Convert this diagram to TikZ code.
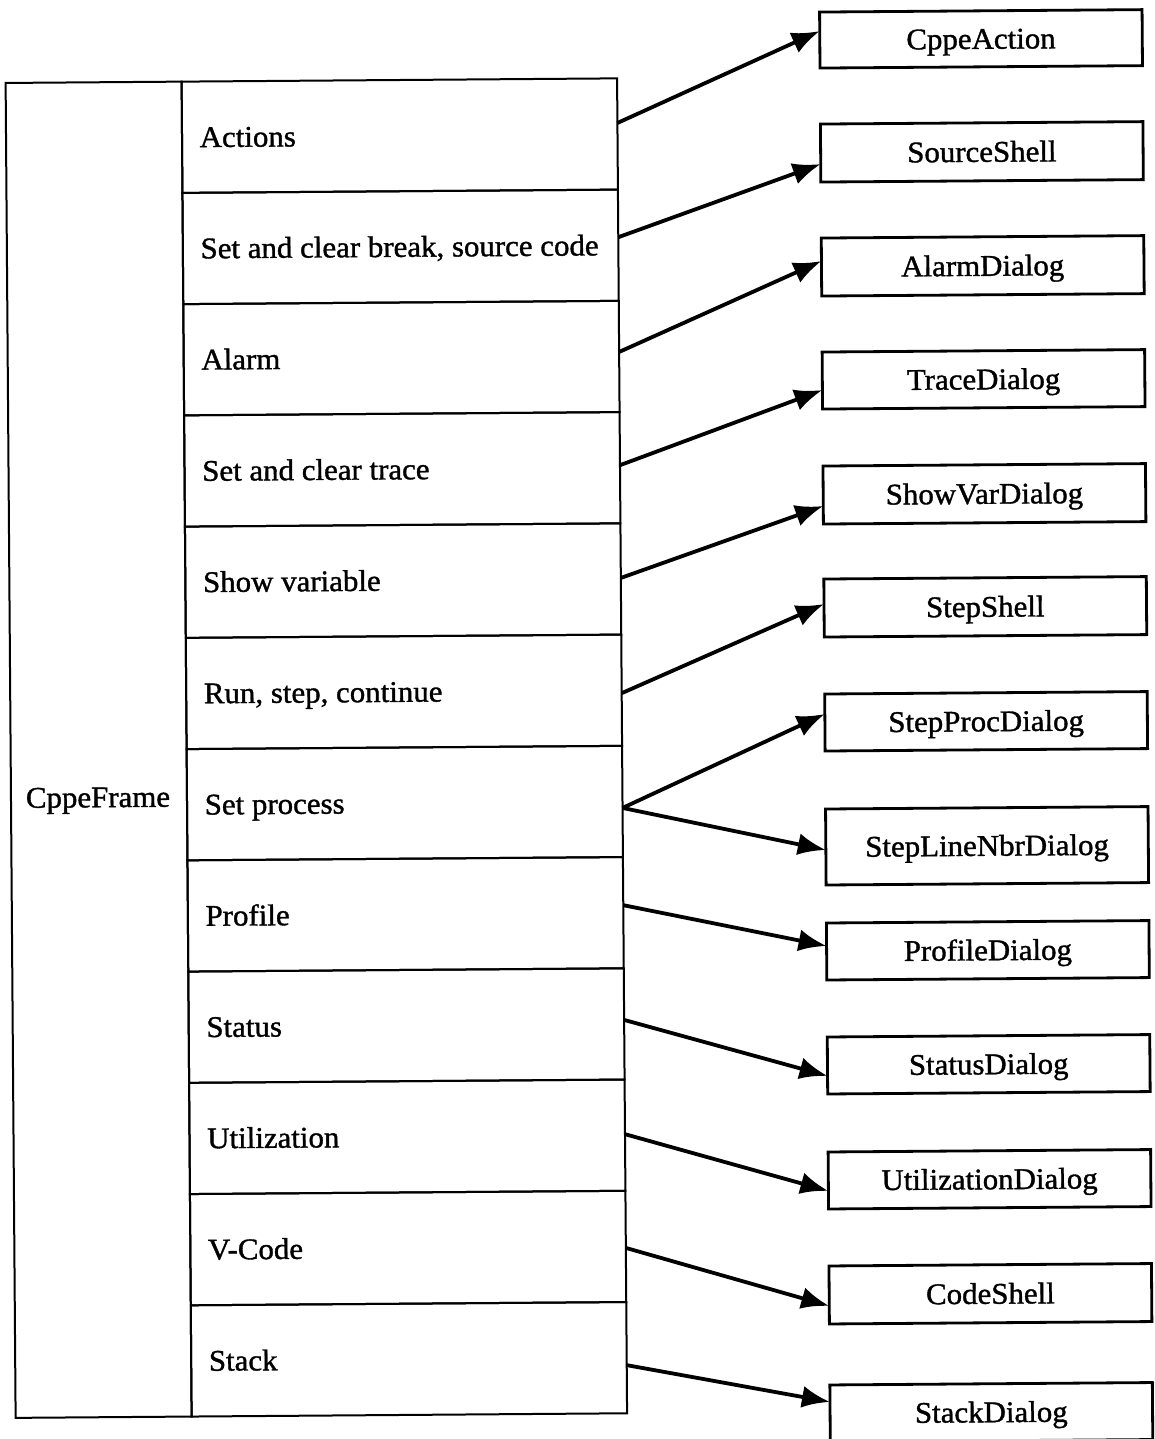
\documentclass[tikz,border=0pt]{standalone}
\usepackage{fontspec}
\setmainfont{Liberation Serif}[FakeStretch=1.03,FakeBold=1.2]
\usetikzlibrary{arrows.meta,calc}
\begin{document}
\begin{tikzpicture}[x=1pt,y=-1pt,
  % text boxes are sized to the capitals so labels sit centred on them
  txt/.style={font=\fontsize{30pt}{34pt}\selectfont, inner sep=0pt,
    text height=20pt, text depth=0pt, transform shape},
  cell/.style={draw, line width=2pt, inner sep=0pt, outer sep=0pt, transform shape},
  rowcell/.style={cell, minimum width=435.5pt, minimum height=111.25pt},
  classbox/.style={draw, line width=2.8pt, inner sep=0pt, outer sep=0pt,
    minimum width=322.5pt, minimum height=57pt, transform shape,
    text height=20pt, text depth=0pt,
    font=\fontsize{30pt}{34pt}\selectfont},
  link/.style={line width=3.8pt, -{Latex[length=28pt,width=22pt]}}]
\clip (0,0) rectangle (1154,1439);
\fill[white] (0,0) rectangle (1154,1439);
\begin{scope}[rotate=0.43]
  % left column holding the frame name
  \node[cell, minimum width=176pt, minimum height=1335pt] (frame) at (93,750.5) {};
  \node[txt] (frametxt) at (92,798) {CppeFrame};
  % menu rows
  \foreach \i/\lbl in {1/Actions, 2/{Set and clear break, source code}, 3/Alarm,
      4/Set and clear trace, 5/Show variable, 6/{Run, step, continue},
      7/Set process, 8/Profile, 9/Status, 10/Utilization, 11/V-Code, 12/Stack}{
    \node[rowcell] (r\i) at (398.75,{83+(\i-0.5)*111.25}) {};
    \node[txt, anchor=west] (l\i) at ([xshift=17.5pt]r\i.west) {\lbl};
  }
  % dialog and shell classes
  \node[classbox, minimum height=56pt] (b1) at (980.75,46.2) {CppeAction};
  \node[classbox, minimum height=58pt] (b2) at (980.75,159.2) {SourceShell};
  \node[classbox, minimum height=58pt] (b3) at (980.75,273.2) {AlarmDialog};
  \node[classbox] (b4) at (980.75,386.7) {TraceDialog};
  \node[classbox, minimum height=58pt] (b5) at (980.75,501.2) {ShowVarDialog};
  \node[classbox, minimum height=58pt] (b6) at (980.75,614.2) {StepShell};
  \node[classbox] (b7) at (980.75,728.7) {StepProcDialog};
  \node[classbox, minimum height=76pt] (b8) at (980.75,853.2) {StepLineNbrDialog};
  \node[classbox] (b9) at (980.75,957.7) {ProfileDialog};
  \node[classbox] (b10) at (980.75,1071.7) {StatusDialog};
  \node[classbox] (b11) at (980.75,1186.7) {UtilizationDialog};
  \node[classbox, minimum height=58pt] (b12) at (980.75,1301.2) {CodeShell};
  \node[classbox] (b13) at (980.75,1419.7) {StackDialog};
  % connectors
  \draw[link] ($(r1.east)+(0,-11)$)  -- ($(b1.west)+(0,-9)$);
  \draw[link] ($(r2.east)+(0,-8)$)   -- ($(b2.west)+(0,11)$);
  \draw[link] ($(r3.east)+(0,-4.5)$) -- ($(b3.west)+(0,-6)$);
  \draw[link] ($(r4.east)+(0,-2.5)$) -- ($(b4.west)+(0,9.5)$);
  \draw[link] ($(r5.east)+(0,-1)$)   -- ($(b5.west)+(0,11)$);
  \draw[link] ($(r6.east)+(0,3)$)    -- ($(b6.west)+(0,-4)$);
  \draw[link] ($(r7.east)+(0,6.5)$)  -- ($(b7.west)+(0,-8.5)$);
  \draw[link] ($(r7.east)+(0,6.5)$)  -- ($(b8.west)+(0,3)$);
  \draw[link] ($(r8.east)+(0,-7.5)$) -- ($(b9.west)+(0,-5.5)$);
  \draw[link] ($(r9.east)+(0,-4)$)   -- ($(b10.west)+(0,10.5)$);
  \draw[link] ($(r10.east)+(0,-1)$)  -- ($(b11.west)+(0,10.5)$);
  \draw[link] ($(r11.east)+(0,1.5)$) -- ($(b12.west)+(0,11)$);
  \draw[link] ($(r12.east)+(0,7.5)$) -- ($(b13.west)+(0,-11.5)$);
\end{scope}
\end{tikzpicture}
\end{document}
